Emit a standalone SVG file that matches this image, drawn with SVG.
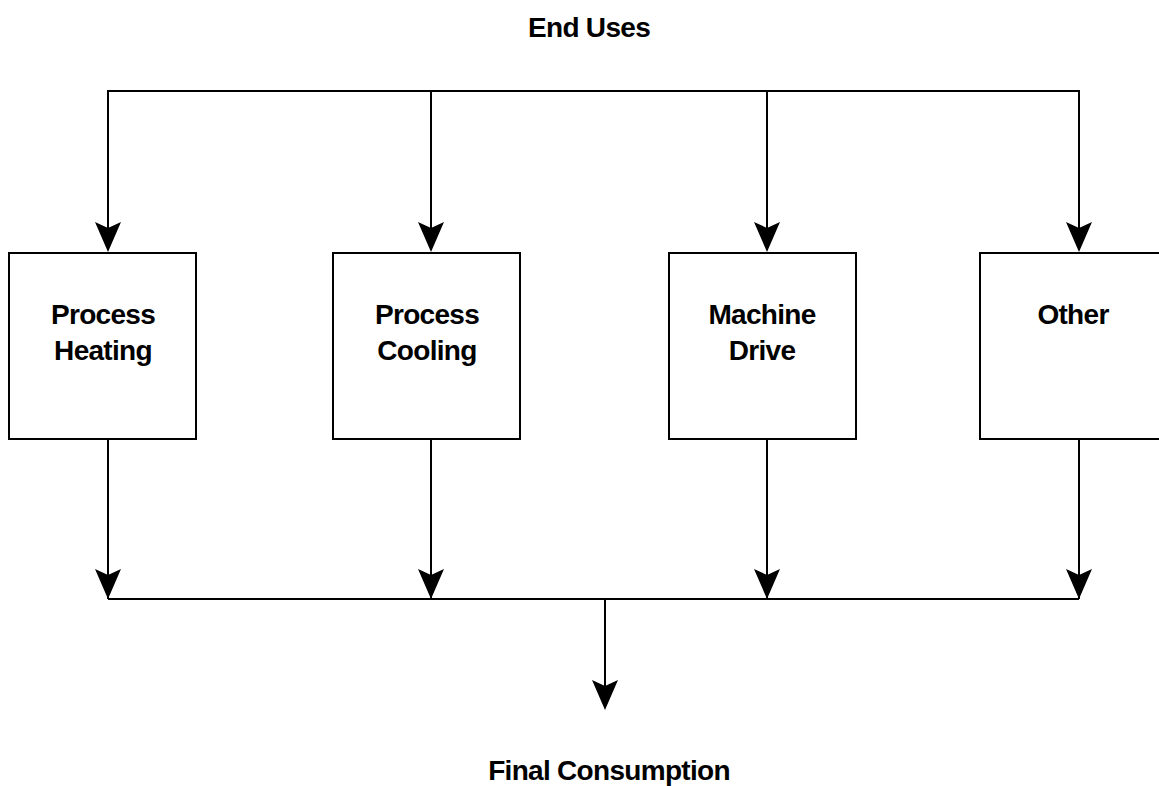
<svg xmlns="http://www.w3.org/2000/svg" width="1159" height="786" viewBox="0 0 1159 786">
  <style>
    .box { fill: #ffffff; stroke: #000000; stroke-width: 2; }
    .lbl { font-family: "Liberation Sans", Arial, sans-serif; font-size: 28px; font-weight: bold; fill: #000000; text-anchor: middle; letter-spacing: -0.7px; }
    .wire { fill: none; stroke: #000000; stroke-width: 2; }
  </style>
  <rect width="1159" height="786" fill="#ffffff"/>
  <text class="lbl" x="589" y="37">End Uses</text>
  <g id="connectors">
    <path class="wire" d="M108,250 L108,91 L1079,91 L1079,250"/>
    <path class="wire" d="M431,91 L431,250"/>
    <path class="wire" d="M767,91 L767,250"/>
    <path class="wire" d="M108,438 L108,599"/>
    <path class="wire" d="M431,438 L431,599"/>
    <path class="wire" d="M767,438 L767,599"/>
    <path class="wire" d="M1079,438 L1079,599"/>
    <path class="wire" d="M108,599 L1079,599"/>
    <path class="wire" d="M605,599 L605,706"/>
    <path d="M108,252 L95,222 L108,228 L121,222 Z"/>
    <path d="M431,252 L418,222 L431,228 L444,222 Z"/>
    <path d="M767,252 L754,222 L767,228 L780,222 Z"/>
    <path d="M1079,252 L1066,222 L1079,228 L1092,222 Z"/>
    <path d="M108,599 L95,569 L108,575 L121,569 Z"/>
    <path d="M431,599 L418,569 L431,575 L444,569 Z"/>
    <path d="M767,599 L754,569 L767,575 L780,569 Z"/>
    <path d="M1079,599 L1066,569 L1079,575 L1092,569 Z"/>
    <path d="M605,710 L592,680 L605,686 L618,680 Z"/>
  </g>
  <g id="node-heating">
    <rect class="box" x="9" y="253" width="187" height="186"/>
    <text class="lbl" x="103" y="324">Process</text>
    <text class="lbl" x="103" y="360">Heating</text>
  </g>
  <g id="node-cooling">
    <rect class="box" x="333" y="253" width="187" height="186"/>
    <text class="lbl" x="427" y="324">Process</text>
    <text class="lbl" x="427" y="360">Cooling</text>
  </g>
  <g id="node-machine">
    <rect class="box" x="669" y="253" width="187" height="186"/>
    <text class="lbl" x="762" y="324">Machine</text>
    <text class="lbl" x="762" y="360">Drive</text>
  </g>
  <g id="node-other">
    <rect class="box" x="980" y="253" width="187" height="186"/>
    <text class="lbl" x="1073" y="324">Other</text>
  </g>
  <text class="lbl" x="609" y="780">Final Consumption</text>
</svg>
